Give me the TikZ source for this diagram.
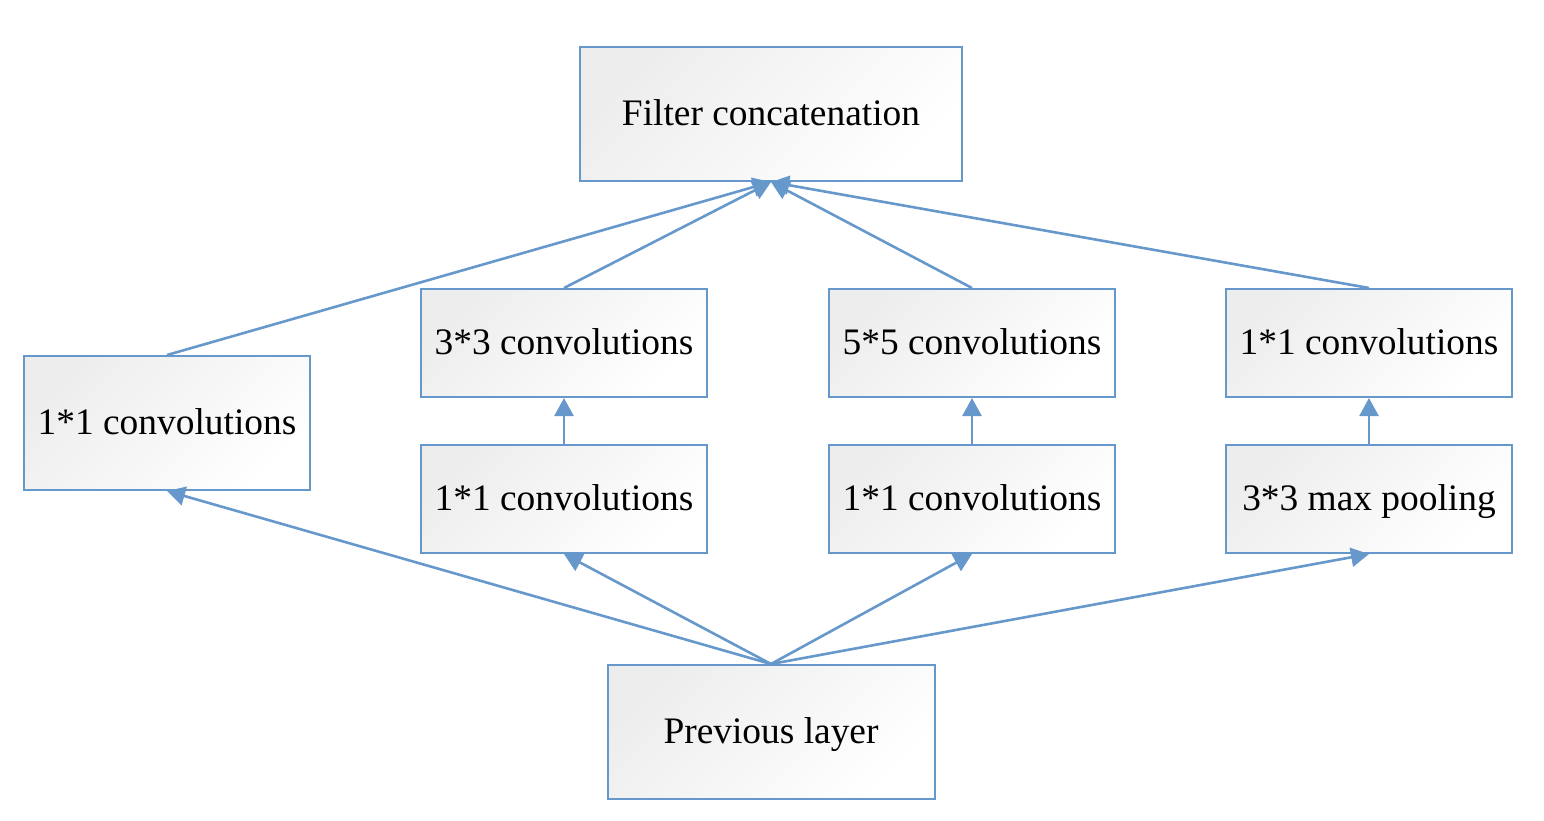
\documentclass[tikz,border=0pt]{standalone}
\usepackage{fontspec}
\setmainfont{Liberation Serif}
\usetikzlibrary{arrows.meta}
\definecolor{edge}{RGB}{103,152,204}
\begin{document}
\begin{tikzpicture}[x=1pt,y=-1pt,
  blk/.style={draw=edge, line width=2pt, top color=black!7, bottom color=white, shading angle=45,
    inner sep=0pt, font=\fontsize{37.4}{44}\selectfont, text=black, text height=27pt, text depth=4pt},
  arr/.style={draw=edge, line width=2.6pt, -{Triangle[length=18pt,width=19pt]}}]
\useasboundingbox (0,0) rectangle (1544,820);
\node[blk, minimum width=382pt, minimum height=134pt] (fc) at (771,114) {Filter concatenation};
\node[blk, minimum width=286pt, minimum height=134pt] (a) at (167,423) {1*1 convolutions};
\node[blk, minimum width=286pt, minimum height=108pt] (b2) at (564,343) {3*3 convolutions};
\node[blk, minimum width=286pt, minimum height=108pt] (b1) at (564,499) {1*1 convolutions};
\node[blk, minimum width=286pt, minimum height=108pt] (c2) at (972,343) {5*5 convolutions};
\node[blk, minimum width=286pt, minimum height=108pt] (c1) at (972,499) {1*1 convolutions};
\node[blk, minimum width=286pt, minimum height=108pt] (d2) at (1369,343) {1*1 convolutions};
\node[blk, minimum width=286pt, minimum height=108pt] (d1) at (1369,499) {3*3 max pooling};
\node[blk, minimum width=327pt, minimum height=134pt] (pl) at (771,732) {Previous layer};
\draw[arr] (pl.north) -- (a.south);
\draw[arr] (pl.north) -- (b1.south);
\draw[arr] (pl.north) -- (c1.south);
\draw[arr] (pl.north) -- (d1.south);
\draw[arr] (b1.north) -- (b2.south);
\draw[arr] (c1.north) -- (c2.south);
\draw[arr] (d1.north) -- (d2.south);
\draw[arr] (a.north) -- (fc.south);
\draw[arr] (b2.north) -- (fc.south);
\draw[arr] (c2.north) -- (fc.south);
\draw[arr] (d2.north) -- (fc.south);
\end{tikzpicture}
\end{document}
